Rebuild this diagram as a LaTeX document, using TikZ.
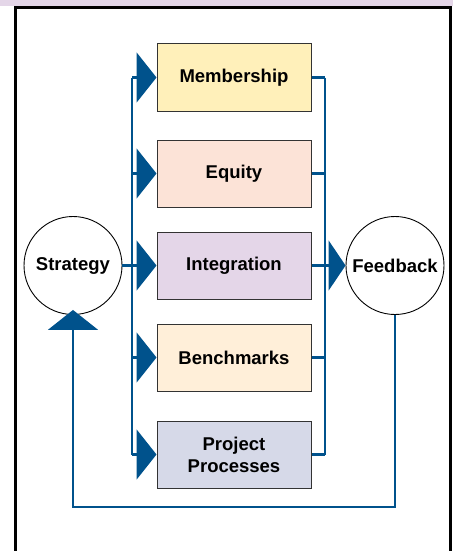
\documentclass[tikz,border=0pt]{standalone}
\usepackage{fontspec}
\setmainfont{Liberation Sans}
\usetikzlibrary{arrows.meta}
\definecolor{flowblue}{RGB}{0,82,140}
\definecolor{bandpurple}{RGB}{228,214,232}
\definecolor{fillmember}{RGB}{255,240,186}
\definecolor{fillequity}{RGB}{252,227,215}
\definecolor{fillinteg}{RGB}{228,214,232}
\definecolor{fillbench}{RGB}{255,239,217}
\definecolor{fillproj}{RGB}{214,217,232}
\tikzset{
  stage/.style={draw=black!80, line width=1pt, minimum width=154pt, minimum height=67pt,
    inner sep=0pt, align=center, font=\fontsize{18.5}{21.8}\selectfont\bfseries},
  hub/.style={circle, draw=black, line width=0.9pt, minimum size=98pt, inner sep=0pt,
    font=\fontsize{18.5}{21.8}\selectfont\bfseries},
  flow/.style={draw=flowblue, line width=2.6pt},
  feed/.style={flow, -{Triangle[length=20pt,width=50pt]}},
  feedshort/.style={flow, -{Triangle[length=17pt,width=50pt]}},
}
\begin{document}
\begin{tikzpicture}[x=1pt,y=-1pt]
\useasboundingbox (0,0) rectangle (453,551);
% header band and frame
\fill[bandpurple] (0,0) rectangle (453,6.5);
\draw[black, line width=3pt] (15.5,560) -- (15.5,8) -- (450.5,8) -- (450.5,560);

% stages
\node[stage, fill=fillmember] (m) at (234,77.5) {Membership};
\node[stage, fill=fillequity] (e) at (234,173.5) {Equity};
\node[stage, fill=fillinteg]  (i) at (234,265.5) {Integration};
\node[stage, fill=fillbench]  (b) at (234,357.5) {Benchmarks};
\node[stage, fill=fillproj]   (p) at (234,454.5) {Project\\Processes};

% hubs
\node[hub] (s) at (73,265.5) {Strategy};
\node[hub] (f) at (395,265.5) {Feedback};

% bus junctions beside each stage
\foreach \n in {m,e,i,b,p} {
  \coordinate (l\n) at (132,0 |- \n.west);
  \coordinate (r\n) at (325,0 |- \n.east);
}

% left distribution bus
\draw[flow] (lm) -- (lp);
\draw[flow] (s.east) -- (li);
\foreach \n in {m,e,i,b,p} {
  \draw[feed] (l\n) -- (\n.west);
  \draw[flow] (\n.east) -- (r\n);
}

% right collection bus
\draw[flow] (rm) -- (rp);
\draw[feedshort] (ri) -- (f.west);

% return loop
\coordinate (loop) at (73,507);
\draw[feed, shorten >=-5pt] (f.south) |- (loop) -- (s.south);
\end{tikzpicture}
\end{document}
